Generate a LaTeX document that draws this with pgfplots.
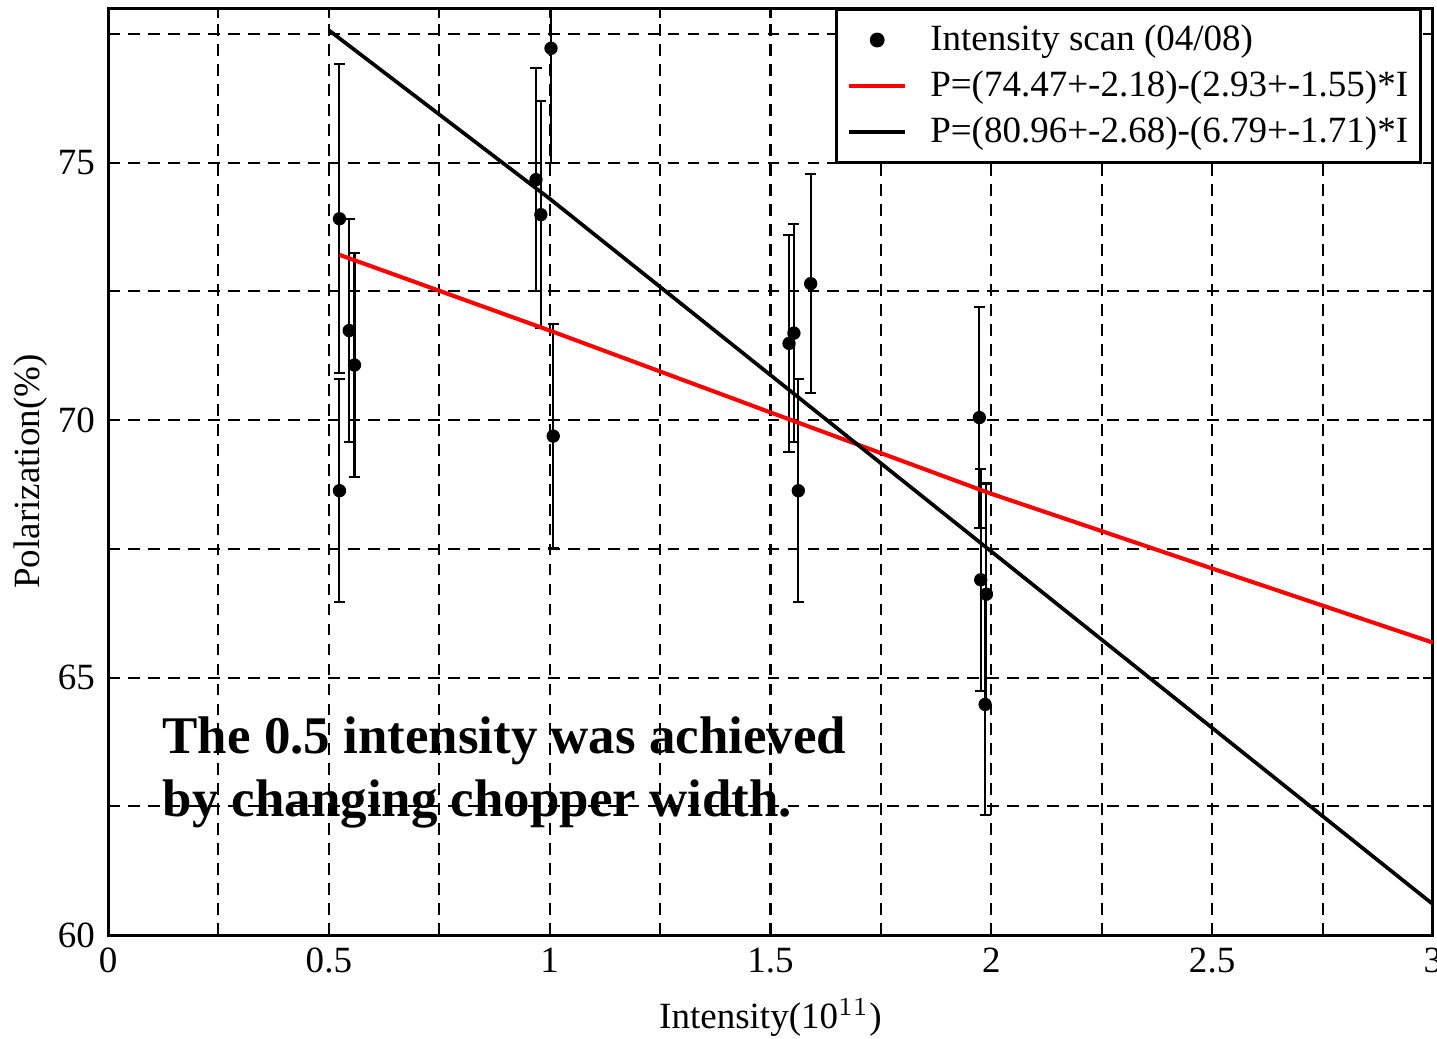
\documentclass[border=0pt]{standalone}
\usepackage{pgfplots}
\pgfplotsset{compat=1.18}
\usepackage{fontspec}
\setmainfont{Liberation Serif}

\pgfplotstableread{
x      y      err
0.524  73.91  3.00
0.546  71.74  2.16
0.558  71.07  2.18
0.524  68.63  2.17
0.969  74.67  2.17
0.980  73.99  2.20
1.003  77.22  2.22
1.008  69.69  2.17
1.542  71.49  2.10
1.553  71.69  2.12
1.563  68.63  2.17
1.591  72.65  2.12
1.973  70.05  2.15
1.976  66.90  2.15
1.989  66.62  2.15
1.986  64.48  2.15
}\scandata

\begin{document}
\begin{tikzpicture}
\begin{axis}[
    scale only axis,
    width=358pt, height=250.5pt,
    xmin=0, xmax=3, ymin=60, ymax=78,
    xtick={0,0.5,...,3},
    xticklabels={0,0.5,1,1.5,2,2.5,3},
    ytick={60,65,70,75},
    minor xtick={0.25,0.75,1.25,1.75,2.25,2.75},
    minor ytick={62.5,67.5,72.5,77.5},
    grid=both,
    major grid style={black, line width=0.55pt, dash pattern=on 3.2pt off 2.2pt},
    minor grid style={black, line width=0.55pt, dash pattern=on 3.2pt off 2.2pt},
    axis line style={line width=0.8pt},
    tick style={black, line width=0.55pt},
    major tick length=2.7pt, minor tick length=2.7pt,
    tick align=inside,
    /pgf/number format/assume math mode=true,
    ticklabel style={font=\fontsize{10}{12}\selectfont},
    label style={font=\fontsize{10}{12}\selectfont},
    xlabel={Intensity(10$^{11}$)},
    ylabel={Polarization(\%)},
    xlabel style={yshift=0pt},
    ylabel style={yshift=-4pt},
    legend style={at={(1,1)}, anchor=north east, xshift=-3pt,
        draw=black, line width=0.8pt, font=\fontsize{10}{12.4}\selectfont,
        inner xsep=0pt, inner ysep=2pt,
        nodes={inner xsep=3.3pt}},
    legend image code/.code={
        \path (-3pt,0pt) (18pt,0pt);
        \draw[mark repeat=2, mark phase=2] plot coordinates {(0pt,0pt) (7.5pt,0pt) (15pt,0pt)};
    },
    legend cell align=left,
]
\addplot[only marks, mark=*, mark size=1.6pt, black,
    error bars/.cd, y dir=both, y explicit,
    error bar style={line width=0.55pt, black},
    error mark options={rotate=90, mark size=1.5pt, line width=0.55pt, black}]
    table[x=x, y=y, y error=err] {\scandata};
\addlegendentry{Intensity scan (04/08)}
\addplot[red, line width=1.1pt] coordinates {
    (0.524,73.21) (1.0,71.74) (1.5,70.15) (2.0,68.57) (2.5,67.12) (3.0,65.68)
};
\addlegendentry{P=(74.47+-2.18)-(2.93+-1.55)*I}
\addplot[black, line width=1pt] coordinates {
    (0.5,77.57) (1.0,74.30) (2.0,67.45) (3.0,60.60)
};
\addlegendentry{P=(80.96+-2.68)-(6.79+-1.71)*I}
\node[anchor=north west, inner sep=0pt, align=left,
      font=\bfseries\fontsize{14.3}{17}\selectfont]
    at (axis cs:0.122,64.25) {The 0.5 intensity was achieved\\by changing chopper width.};
\end{axis}
\pgfresetboundingbox
\path (current axis.south west) ++(-29.2pt,-27.8pt)
    rectangle ([shift={(1.1pt,2.2pt)}]current axis.north east);
\end{tikzpicture}
\end{document}
